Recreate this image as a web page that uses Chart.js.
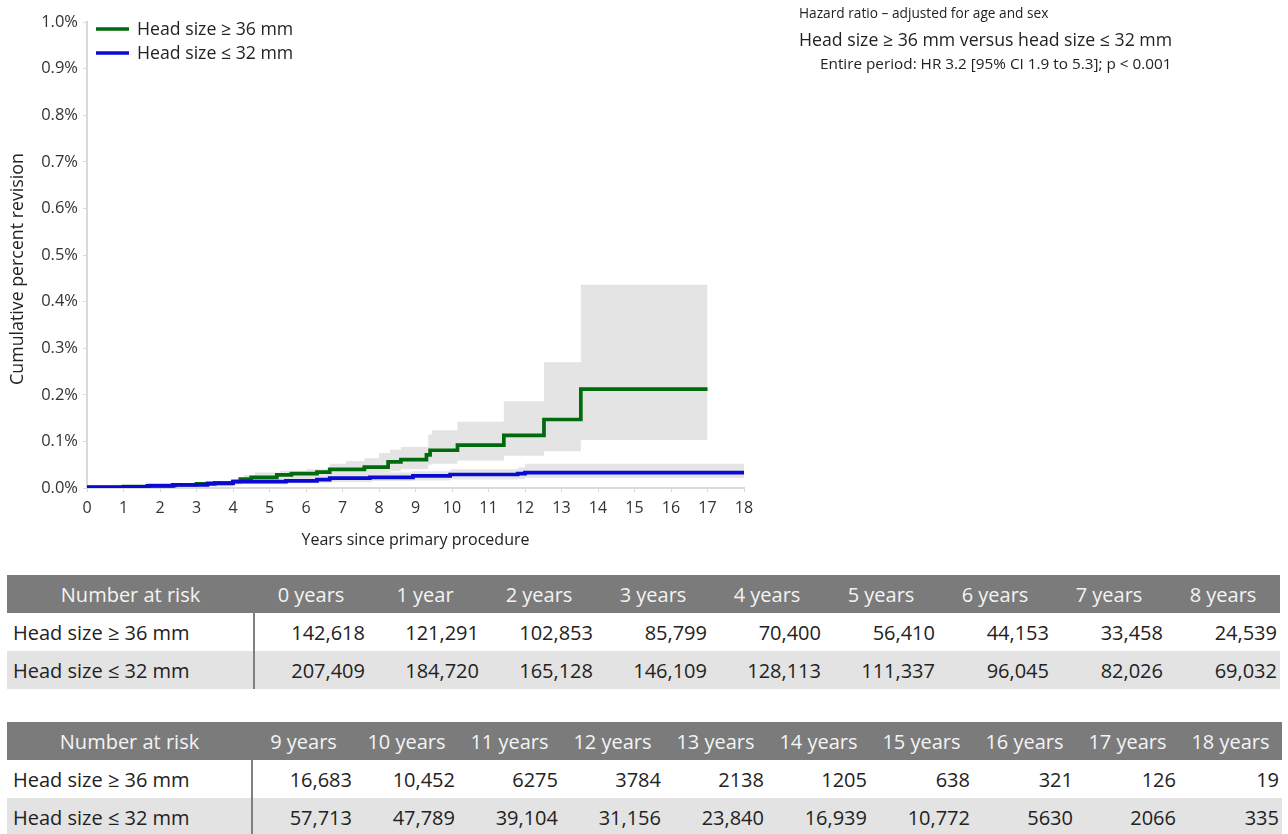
<!DOCTYPE html>
<html>
<head>
<meta charset="utf-8">
<title>Cumulative percent revision by head size</title>
<script src="https://cdn.jsdelivr.net/npm/chart.js@4.4.0/dist/chart.umd.min.js"></script>
<style>
  html, body { margin: 0; padding: 0; background: #fff; }
  body { width: 1288px; height: 834px; position: relative; overflow: hidden;
         font-family: "Open Sans", "Noto Sans", sans-serif; color: #222; }
  #plot { position: absolute; left: 0; top: 0; width: 1288px; height: 560px; }
  .hr { position: absolute; white-space: nowrap; color: #222; }
  .hr1 { left: 799px; top: 3px; font-size: 13.7px; }
  .hr2 { left: 799px; top: 27px; font-size: 17.7px; }
  .hr3 { left: 820px; top: 53px; font-size: 15.3px; }
  table.risk { position: absolute; left: 7px; border-collapse: collapse; table-layout: fixed;
               font-size: 20px; color: #222; }
  table.risk th { background: #7b7b7b; color: #f4f4f4; font-weight: normal; text-align: center;
                  height: 38px; padding: 0; white-space: nowrap; }
  table.risk td { height: 38px; padding: 0 3px 0 0; text-align: right; white-space: nowrap; }
  table.risk td.name { text-align: left; padding-left: 6px; border-right: 2px solid #808080; }
  table.risk tr.alt td { background: #e3e3e3; }
</style>
</head>
<body>
<div id="plot"><canvas id="chart" width="1288" height="560"></canvas></div>
<div class="hr hr1">Hazard ratio – adjusted for age and sex</div>
<div class="hr hr2">Head size ≥ 36 mm versus head size ≤ 32 mm</div>
<div class="hr hr3">Entire period: HR 3.2 [95% CI 1.9 to 5.3]; p &lt; 0.001</div>
<table class="risk" id="riskA" style="top:575px;"></table>
<table class="risk" id="riskB" style="top:722px;"></table>
<script>
// Series names
const groupNames = ['Head size ≥ 36 mm', 'Head size ≤ 32 mm'];

// Head size >= 36 mm: cumulative percent revision (step estimate)
const largeYears    = [0, 1.0, 1.7, 2.4, 3.0, 3.5, 4.0, 4.2, 4.5, 5.2, 5.6, 6.3, 6.65, 7.6, 8.25, 8.6, 9.3, 9.4, 10.15, 11.42, 12.52, 13.53, 17.0];
const largeRevision = [0.002, 0.003, 0.005, 0.007, 0.009, 0.011, 0.014, 0.019, 0.023, 0.028, 0.031, 0.034, 0.040, 0.045, 0.056, 0.061, 0.071, 0.081, 0.092, 0.113, 0.147, 0.212, 0.212];
// Head size >= 36 mm: 95% confidence band
const largeBandYears = [0, 1, 2, 3, 4, 4.3, 4.6, 5.3, 6.0, 6.65, 7.1, 7.6, 8.0, 8.3, 8.6, 9.35, 9.45, 10.15, 11.42, 12.52, 13.53, 17.0];
const largeUpper     = [0.004, 0.006, 0.009, 0.013, 0.019, 0.028, 0.033, 0.037, 0.040, 0.052, 0.058, 0.064, 0.075, 0.082, 0.088, 0.115, 0.124, 0.142, 0.186, 0.270, 0.436, 0.436];
const largeLower     = [0.0005, 0.001, 0.002, 0.004, 0.008, 0.010, 0.013, 0.018, 0.020, 0.025, 0.027, 0.030, 0.033, 0.036, 0.040, 0.050, 0.052, 0.059, 0.069, 0.079, 0.103, 0.103];

// Head size <= 32 mm: cumulative percent revision (step estimate)
const smallYears    = [0, 1.0, 1.65, 2.35, 3.3, 4.0, 5.45, 6.3, 6.65, 7.75, 8.93, 9.95, 11.8, 12.0, 18.0];
const smallRevision = [0.0015, 0.0025, 0.0045, 0.0065, 0.010, 0.0135, 0.0155, 0.018, 0.021, 0.023, 0.026, 0.029, 0.031, 0.033, 0.033];
// Head size <= 32 mm: 95% confidence band
const smallBandYears = [0, 1, 2, 3, 4, 5.5, 6.3, 6.7, 7.8, 8.9, 9.95, 11.8, 12.0, 18.0];
const smallUpper     = [0.003, 0.004, 0.008, 0.012, 0.017, 0.021, 0.025, 0.030, 0.033, 0.036, 0.040, 0.044, 0.052, 0.052];
const smallLower     = [0.0005, 0.001, 0.002, 0.004, 0.008, 0.010, 0.011, 0.013, 0.015, 0.016, 0.018, 0.019, 0.022, 0.022];

// Axis ticks
const yearTicks = [0, 1, 2, 3, 4, 5, 6, 7, 8, 9, 10, 11, 12, 13, 14, 15, 16, 17, 18];
const percentTicks = [0, 0.1, 0.2, 0.3, 0.4, 0.5, 0.6, 0.7, 0.8, 0.9, 1.0];

// Number at risk
const riskLabelsA  = ['0 years', '1 year', '2 years', '3 years', '4 years', '5 years', '6 years', '7 years', '8 years'];
const atRiskLargeA = [142618, 121291, 102853, 85799, 70400, 56410, 44153, 33458, 24539];
const atRiskSmallA = [207409, 184720, 165128, 146109, 128113, 111337, 96045, 82026, 69032];
const riskLabelsB  = ['9 years', '10 years', '11 years', '12 years', '13 years', '14 years', '15 years', '16 years', '17 years', '18 years'];
const atRiskLargeB = [16683, 10452, 6275, 3784, 2138, 1205, 638, 321, 126, 19];
const atRiskSmallB = [57713, 47789, 39104, 31156, 23840, 16939, 10772, 5630, 2066, 335];

const GREEN = '#006a0c';
const BLUE = '#0a0ad2';
const BAND = '#e4e4e4';
const FONT = '"Open Sans", "Noto Sans", sans-serif';
const Y_TITLE = 'Cumulative percent revision';

function pts(xs, ys) { return xs.map((x, i) => ({ x: x, y: ys[i] })); }

function bandPair(xs, upper, lower) {
  return [
    { data: pts(xs, upper), fill: '+1', backgroundColor: BAND, borderColor: 'transparent',
      borderWidth: 0, pointRadius: 0, stepped: true, order: 10 },
    { data: pts(xs, lower), fill: false, backgroundColor: BAND, borderColor: 'transparent',
      borderWidth: 0, pointRadius: 0, stepped: true, order: 10 }
  ];
}

// Legend inside the plot area (top left) and the rotated y-axis title
const plotText = {
  id: 'plotText',
  afterDraw(chart) {
    const ctx = chart.ctx;
    const items = chart.data.datasets.filter(d => d.label);
    ctx.save();
    ctx.font = '17.7px ' + FONT;
    ctx.textBaseline = 'middle';
    items.forEach((d, i) => {
      const y = 29 + i * 24;
      ctx.strokeStyle = d.borderColor;
      ctx.lineWidth = 3.5;
      ctx.beginPath();
      ctx.moveTo(96, y);
      ctx.lineTo(129, y);
      ctx.stroke();
      ctx.fillStyle = '#222';
      ctx.fillText(d.label, 137, y + 1);
    });
    ctx.translate(18, 269);
    ctx.rotate(-Math.PI / 2);
    ctx.textAlign = 'center';
    ctx.font = '17.8px ' + FONT;
    ctx.fillText(Y_TITLE, 0, 0);
    ctx.restore();
  }
};

new Chart(document.getElementById('chart'), {
  type: 'line',
  data: {
    datasets: [
      ...bandPair(largeBandYears, largeUpper, largeLower),
      ...bandPair(smallBandYears, smallUpper, smallLower),
      { label: groupNames[0], data: pts(largeYears, largeRevision), borderColor: GREEN,
        borderWidth: 3.7, pointRadius: 0, stepped: true, fill: false, order: 2 },
      { label: groupNames[1], data: pts(smallYears, smallRevision), borderColor: BLUE,
        borderWidth: 3.7, pointRadius: 0, stepped: true, fill: false, order: 1 }
    ]
  },
  options: {
    responsive: false,
    animation: false,
    events: [],
    layout: { padding: { top: 22, right: 544, bottom: 0, left: 0 } },
    plugins: {
      legend: { display: false },
      tooltip: { enabled: false },
      filler: { drawTime: 'beforeDatasetsDraw' }
    },
    scales: {
      x: {
        type: 'linear', min: 0, max: 18,
        afterBuildTicks(scale) { scale.ticks = yearTicks.map(v => ({ value: v })); },
        afterFit(scale) { scale.height = 72; },
        ticks: { font: { family: FONT, size: 16 }, color: '#333', padding: 7, maxRotation: 0,
                 callback: v => String(v) },
        grid: { drawOnChartArea: false, drawTicks: true, tickLength: 4, color: '#d9d9d9' },
        border: { display: true, color: '#d9d9d9', width: 2 },
        title: { display: true, text: 'Years since primary procedure', color: '#222',
                 font: { family: FONT, size: 16 }, padding: { top: 4, bottom: 10 } }
      },
      y: {
        type: 'linear', min: 0, max: 1.0,
        afterBuildTicks(scale) { scale.ticks = percentTicks.map(v => ({ value: v })); },
        afterFit(scale) { scale.width = 87; },
        ticks: { font: { family: FONT, size: 16.5 }, color: '#333', padding: 5,
                 callback: v => v.toFixed(1) + '%' },
        grid: { drawOnChartArea: false, drawTicks: true, tickLength: 4, color: '#d9d9d9' },
        border: { display: true, color: '#d9d9d9', width: 2 },
        title: { display: false }
      }
    }
  },
  plugins: [plotText]
});

// Number-at-risk tables
function fmt(n) { return n >= 10000 ? n.toLocaleString('en-US') : String(n); }

function buildRisk(id, labels, large, small, nameWidth, colWidth) {
  const t = document.getElementById(id);
  let html = '<colgroup><col style="width:' + nameWidth + 'px">';
  labels.forEach(() => { html += '<col style="width:' + colWidth + 'px">'; });
  html += '</colgroup><tr><th>Number at risk</th>';
  labels.forEach(l => { html += '<th>' + l + '</th>'; });
  html += '</tr><tr><td class="name">' + groupNames[0] + '</td>';
  large.forEach(v => { html += '<td>' + fmt(v) + '</td>'; });
  html += '</tr><tr class="alt"><td class="name">' + groupNames[1] + '</td>';
  small.forEach(v => { html += '<td>' + fmt(v) + '</td>'; });
  html += '</tr>';
  t.innerHTML = html;
  t.style.width = (nameWidth + colWidth * labels.length) + 'px';
}
buildRisk('riskA', riskLabelsA, atRiskLargeA, atRiskSmallA, 247, 114);
buildRisk('riskB', riskLabelsB, atRiskLargeB, atRiskSmallB, 245, 103);
</script>
</body>
</html>
